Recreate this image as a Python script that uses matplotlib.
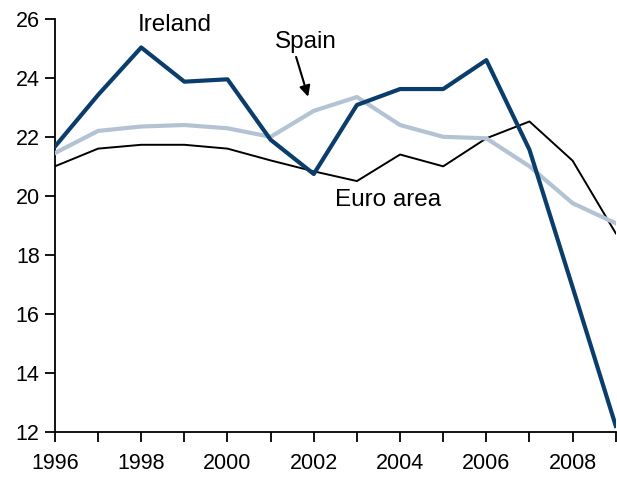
import matplotlib.pyplot as plt
import numpy as np

plt.rcParams.update({"font.family": ["Liberation Sans", "DejaVu Sans"],
                     "font.size": 15.5})

years = np.arange(1996, 2010)
ireland = [21.67, 23.42, 25.03, 23.87, 23.95, 21.9, 20.74, 23.08, 23.62, 23.62,
           24.6, 21.56, 16.9, 12.2]
spain = [21.45, 22.2, 22.35, 22.4, 22.29, 22.0, 22.88, 23.35, 22.4, 22.0,
         21.95, 21.0, 19.75, 19.07]
euro = [21.0, 21.6, 21.73, 21.73, 21.6, 21.2, 20.83, 20.5, 21.4, 21.0,
        21.95, 22.52, 21.19, 18.73]

fig = plt.figure(figsize=(6.17, 4.83), dpi=100)
ax = fig.add_axes([0.089, 0.106, 0.909, 0.855])

ax.plot(years, euro, color="black", lw=1.4, zorder=2)
ax.plot(years, spain, color="#b3c3d3", lw=3.0, zorder=3)
ax.plot(years, ireland, color="#0a3d6b", lw=3.0, zorder=4)

ax.set_xlim(1996, 2009)
ax.set_ylim(12, 26)
ax.set_yticks(np.arange(12, 27, 2))
ax.set_xticks(np.arange(1996, 2009, 2))
ax.set_xticks(np.arange(1996, 2010), minor=True)
for s in ["top", "right"]:
    ax.spines[s].set_visible(False)
ax.spines["left"].set_linewidth(1.3)
ax.spines["bottom"].set_linewidth(1.3)
ax.tick_params(axis="both", which="both", direction="out", length=7, width=1.3)
ax.tick_params(axis="x", pad=8)
ax.tick_params(axis="y", pad=4)

lab = dict(ha="center", va="center", fontsize=17.5)
ax.text(1998.78, 25.8, "Ireland", **lab)
ax.text(2001.82, 25.22, "Spain", **lab)
ax.text(2003.73, 19.86, "Euro area", **lab)
ax.annotate("", xy=(2001.87, 23.36), xytext=(2001.59, 24.71),
            arrowprops=dict(arrowstyle="-|>", color="black", lw=1.5,
                            mutation_scale=16, shrinkA=0, shrinkB=0))

fig.savefig("out.png", dpi=100)
